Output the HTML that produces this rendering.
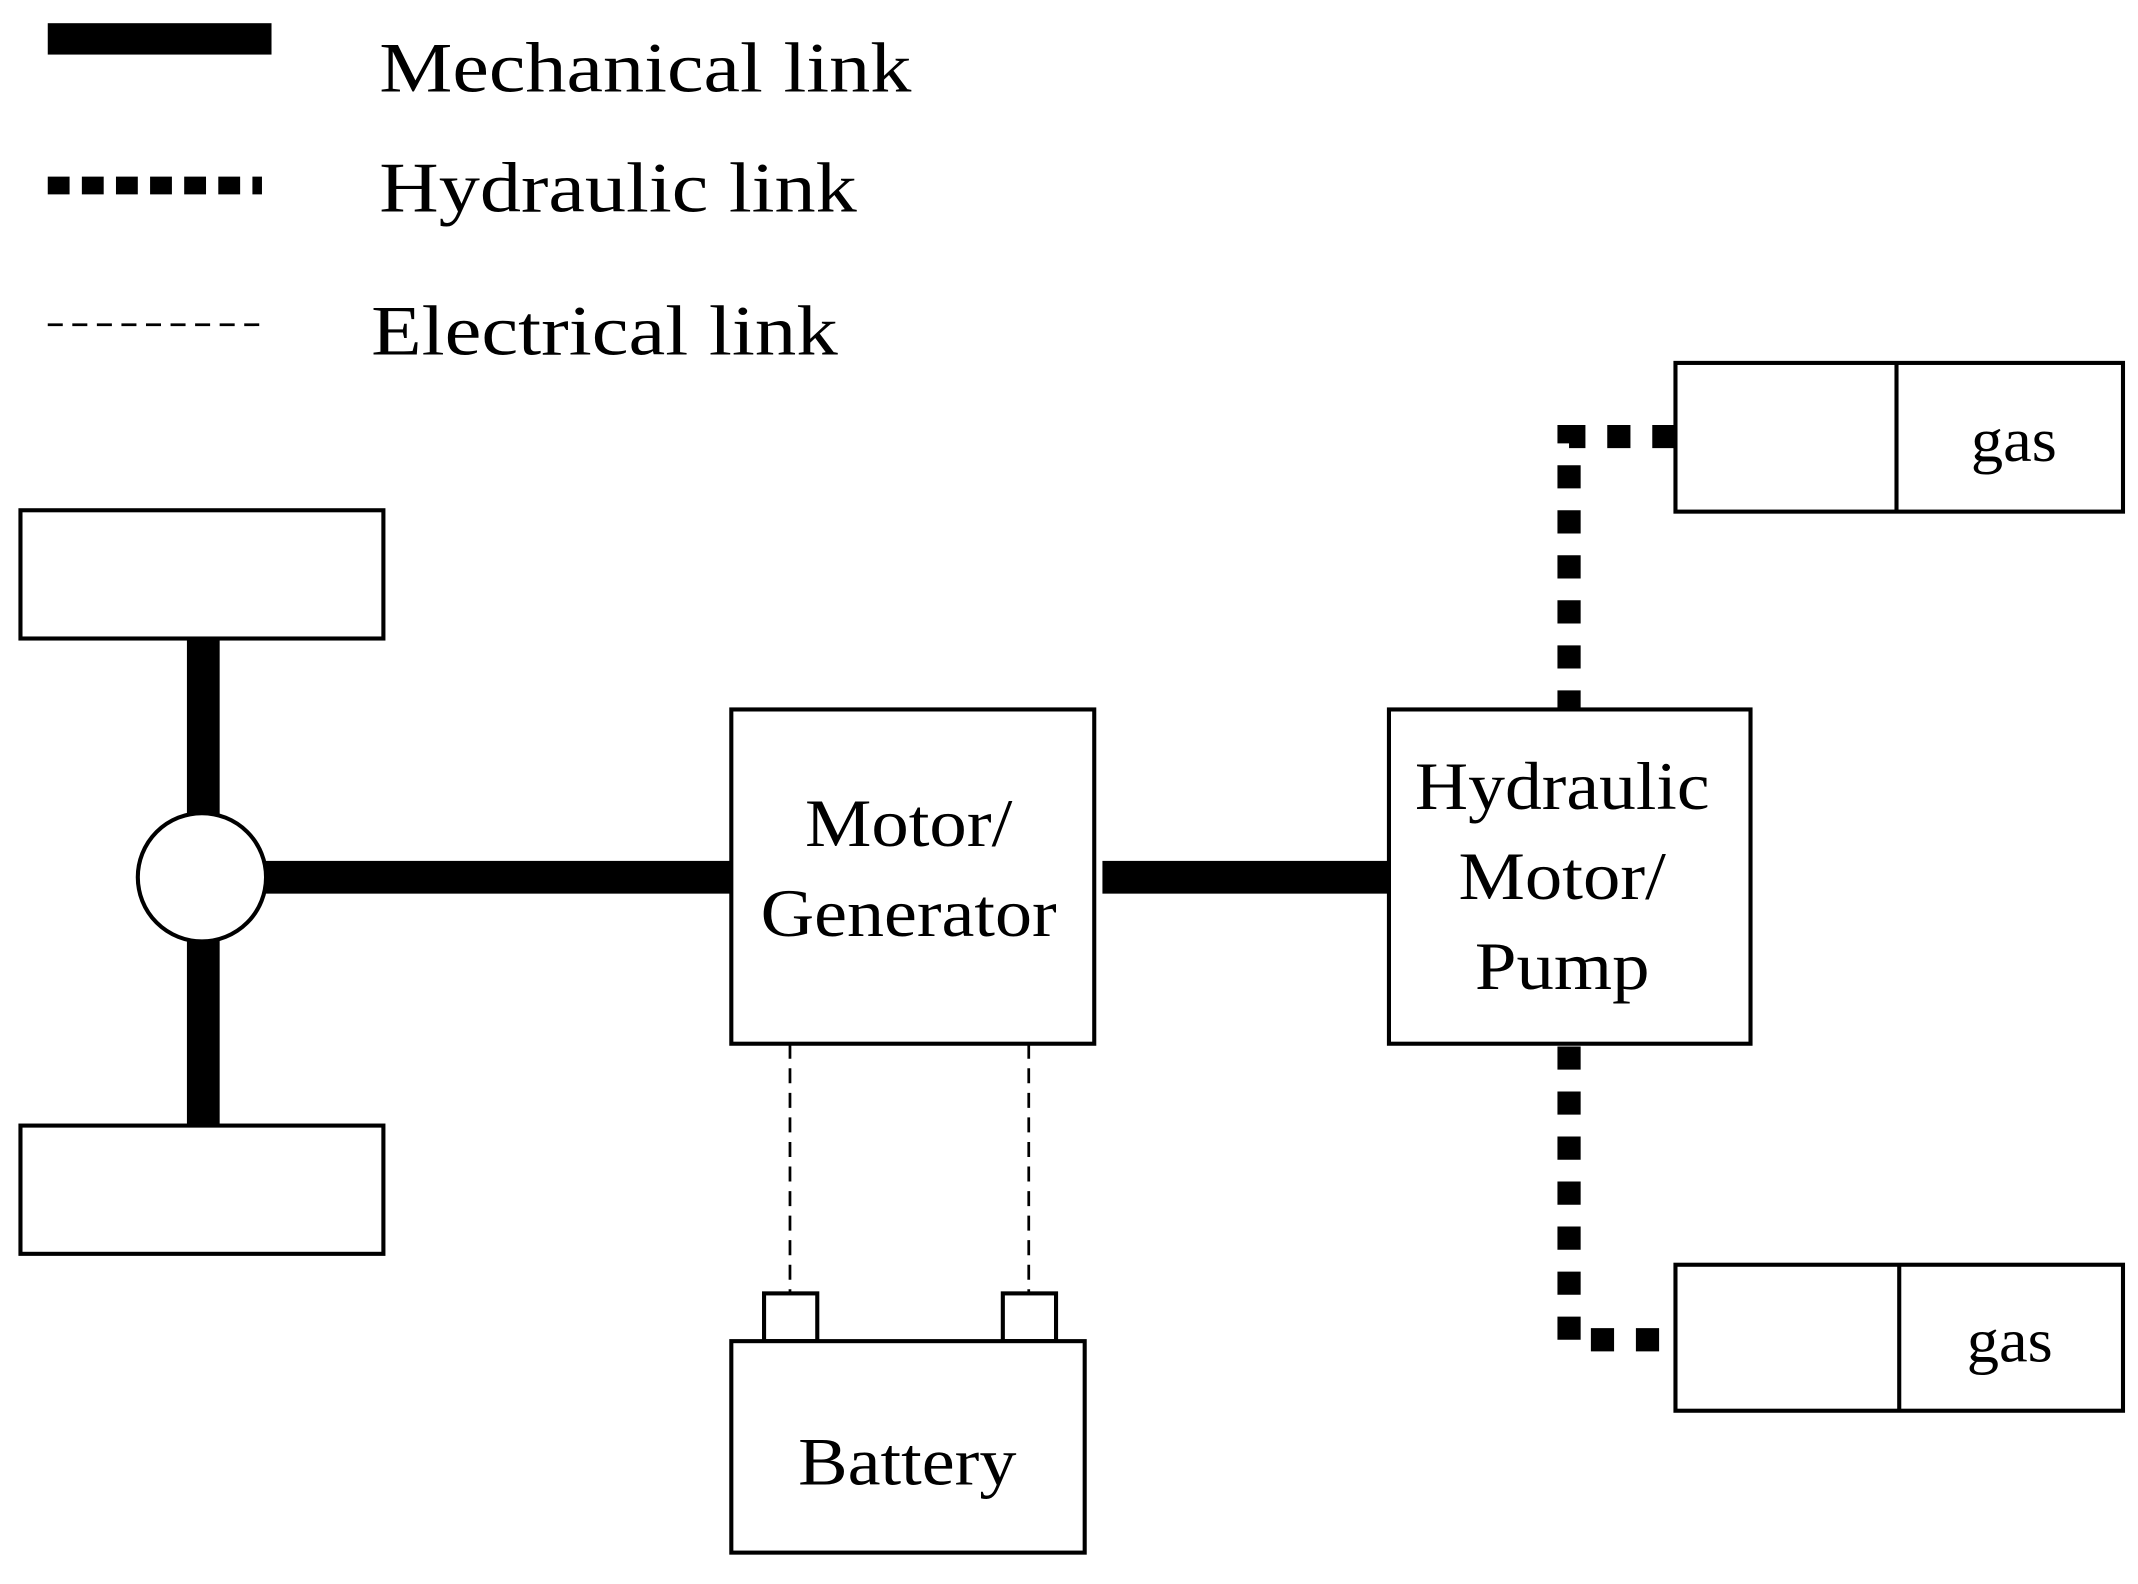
<!DOCTYPE html>
<html><head><style>html,body{margin:0;padding:0;background:#fff}svg{display:block}</style></head>
<body>
<svg width="2138" height="1584" viewBox="0 0 1567 1161" preserveAspectRatio="none" xmlns="http://www.w3.org/2000/svg" font-family="Liberation Serif, serif">
<rect width="1567" height="1161" fill="#fff"/>
<!-- legend -->
<rect x="35" y="17" width="164" height="23" fill="#000"/>
<text x="278" y="67" font-size="52" textLength="390" lengthAdjust="spacingAndGlyphs">Mechanical link</text>
<line x1="35" y1="136" x2="192" y2="136" stroke="#000" stroke-width="13" stroke-dasharray="16 9"/>
<text x="278" y="155" font-size="52" textLength="350" lengthAdjust="spacingAndGlyphs">Hydraulic link</text>
<line x1="35" y1="238" x2="196" y2="238" stroke="#000" stroke-width="2" stroke-dasharray="11 7"/>
<text x="272" y="260" font-size="52" textLength="342" lengthAdjust="spacingAndGlyphs">Electrical link</text>
<!-- wheels -->
<g fill="#fff" stroke="#000" stroke-width="3">
<rect x="15" y="374" width="266" height="94"/>
<rect x="15" y="825" width="266" height="94"/>
</g>
<rect x="137" y="468" width="24" height="357" fill="#000"/>
<rect x="190" y="631" width="346" height="24" fill="#000"/>
<circle cx="148" cy="643" r="47" fill="#fff" stroke="#000" stroke-width="3"/>
<rect x="808" y="631" width="212" height="24" fill="#000"/>
<!-- boxes -->
<g fill="#fff" stroke="#000" stroke-width="3">
<rect x="536" y="520" width="266" height="245"/>
<rect x="1018" y="520" width="265" height="245"/>
<rect x="560" y="948" width="39" height="35"/>
<rect x="735" y="948" width="39" height="35"/>
<rect x="536" y="983" width="259" height="155"/>
<rect x="1228" y="266" width="328" height="109"/>
<line x1="1390" y1="266" x2="1390" y2="375"/>
<rect x="1228" y="927" width="328" height="107"/>
<line x1="1392" y1="927" x2="1392" y2="1034"/>
</g>
<g font-size="50" text-anchor="middle" lengthAdjust="spacingAndGlyphs">
<text x="666" y="620" textLength="152" lengthAdjust="spacingAndGlyphs">Motor/</text>
<text x="666" y="686" textLength="217" lengthAdjust="spacingAndGlyphs">Generator</text>
<text x="1145" y="593" textLength="216" lengthAdjust="spacingAndGlyphs">Hydraulic</text>
<text x="1145" y="659" textLength="152" lengthAdjust="spacingAndGlyphs">Motor/</text>
<text x="1145" y="725" textLength="128" lengthAdjust="spacingAndGlyphs">Pump</text>
<text x="665" y="1088" textLength="160" lengthAdjust="spacingAndGlyphs">Battery</text>
<text x="1476" y="338" font-size="46" textLength="63" lengthAdjust="spacingAndGlyphs">gas</text>
<text x="1473" y="998" font-size="46" textLength="63" lengthAdjust="spacingAndGlyphs">gas</text>
</g>
<!-- electrical -->
<line x1="579" y1="765" x2="579" y2="948" stroke="#000" stroke-width="2" stroke-dasharray="11 7"/>
<line x1="754" y1="765" x2="754" y2="948" stroke="#000" stroke-width="2" stroke-dasharray="11 7"/>
<!-- hydraulic -->
<g stroke="#000" stroke-width="17" fill="none" stroke-dasharray="17 16">
<path d="M1228 320 H1150 V520"/>
<path d="M1150 767 V982 H1228"/>
</g>
</svg>
</body></html>
